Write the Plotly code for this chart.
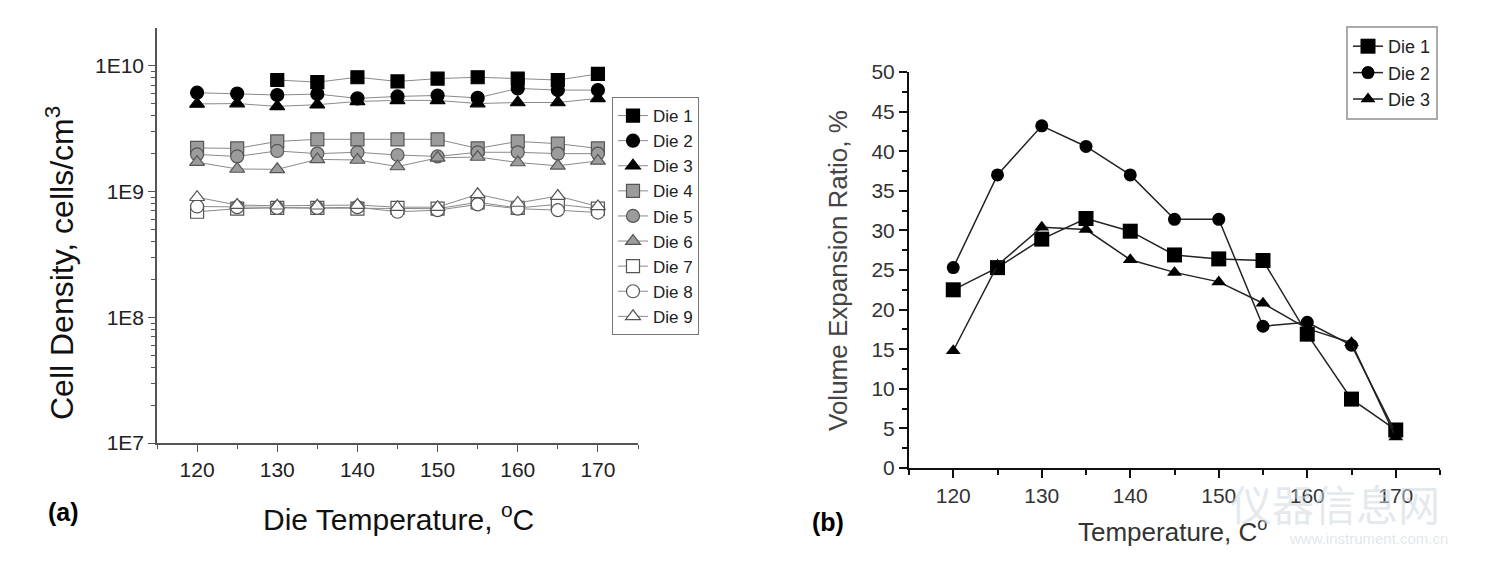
import plotly.graph_objects as go

# ---------------- data ----------------
temps = [120, 125, 130, 135, 140, 145, 150, 155, 160, 165, 170]

# panel (a): cell density, cells/cm3
die1_a = [None, None, 7.7e9, 7.4e9, 8.1e9, 7.5e9, 7.9e9, 8.1e9, 7.9e9, 7.7e9, 8.6e9]
die2_a = [6.1e9, 6.0e9, 5.85e9, 5.95e9, 5.5e9, 5.7e9, 5.8e9, 5.55e9, 6.6e9, 6.4e9, 6.4e9]
die3_a = [4.97e9, 5.0e9, 4.75e9, 4.9e9, 5.2e9, 5.3e9, 5.3e9, 5.0e9, 5.1e9, 5.1e9, 5.5e9]
die4_a = [2.22e9, 2.2e9, 2.5e9, 2.6e9, 2.6e9, 2.6e9, 2.6e9, 2.2e9, 2.5e9, 2.4e9, 2.2e9]
die5_a = [1.97e9, 1.9e9, 2.1e9, 2.0e9, 2.05e9, 1.95e9, 1.9e9, 2.05e9, 2.05e9, 2.0e9, 2.0e9]
die6_a = [1.71e9, 1.51e9, 1.5e9, 1.8e9, 1.78e9, 1.58e9, 1.85e9, 1.88e9, 1.7e9, 1.6e9, 1.75e9]
die7_a = [6.9e8, 7.3e8, 7.4e8, 7.4e8, 7.3e8, 7.4e8, 7.3e8, 8.2e8, 7.4e8, 7.9e8, 7.3e8]
die8_a = [7.6e8, 7.5e8, 7.4e8, 7.4e8, 7.5e8, 6.9e8, 7.1e8, 7.9e8, 7.3e8, 7.1e8, 6.8e8]
die9_a = [9.0e8, 7.8e8, 7.7e8, 7.7e8, 7.8e8, 7.5e8, 7.5e8, 9.5e8, 8.1e8, 9.2e8, 7.6e8]

# panel (b): volume expansion ratio, %
die1_b = [22.5, 25.3, 28.9, 31.5, 29.9, 26.9, 26.4, 26.2, 16.9, 8.7, 4.8]
die2_b = [25.3, 37.0, 43.2, 40.6, 37.0, 31.4, 31.4, 17.9, 18.4, 15.5, 4.4]
die3_b = [14.8, 25.6, 30.4, 30.1, 26.3, 24.7, 23.5, 20.8, 17.6, 15.8, 3.9]

names = ["Die 1", "Die 2", "Die 3", "Die 4", "Die 5", "Die 6", "Die 7", "Die 8", "Die 9"]
y_tick_vals = [1e7, 1e8, 1e9, 1e10]
y_tick_text = ["1E7", "1E8", "1E9", "1E10"]
x_tick_vals = [120, 130, 140, 150, 160, 170]

title_ax = "Die Temperature, <sup>o</sup>C"
title_ay = "Cell Density, cells/cm<sup>3</sup>"
title_bx = "Temperature, C<sup>o</sup>"
title_by = "Volume Expansion Ratio, %"

FONT = "Liberation Sans, Arial, sans-serif"
W, H = 1497, 569


def px(x):
    return x / W


def py(y):
    return 1 - y / H


fig = go.Figure()

series_a = [die1_a, die2_a, die3_a, die4_a, die5_a, die6_a, die7_a, die8_a, die9_a]
symbols_a = ["square", "circle", "triangle-up"] * 3
fills_a = ["#000000"] * 3 + ["#9c9c9c"] * 3 + ["#ffffff"] * 3
edges_a = ["#000000"] * 3 + ["#555555"] * 3 + ["#555555"] * 3

for i, (vals, nm) in enumerate(zip(series_a, names)):
    fig.add_trace(go.Scatter(
        x=temps, y=vals, name=nm, mode="lines+markers",
        xaxis="x", yaxis="y", legend="legend", legendgroup=nm,
        line=dict(color="#8a8a8a", width=1),
        marker=dict(symbol=symbols_a[i], size=13, color=fills_a[i],
                    line=dict(color=edges_a[i], width=1.2)),
    ))

series_b = [die1_b, die2_b, die3_b]
symbols_b = ["square", "circle", "triangle-up"]
sizes_b = [15, 13, 13]
for i, (vals, nm) in enumerate(zip(series_b, names[:3])):
    fig.add_trace(go.Scatter(
        x=temps, y=vals, name=nm, mode="lines+markers",
        xaxis="x2", yaxis="y2", legend="legend2", legendgroup="b" + nm,
        line=dict(color="#222222", width=1.5),
        marker=dict(symbol=symbols_b[i], size=sizes_b[i], color="#000000",
                    line=dict(color="#000000", width=0)),
    ))

minor_log = [m * 10 ** e for e in range(7, 11) for m in range(2, 10) if m * 10 ** e <= 2e10]

fig.update_layout(
    width=W, height=H,
    margin=dict(l=0, r=0, t=0, b=0, autoexpand=False),
    paper_bgcolor="white", plot_bgcolor="white",
    font=dict(family=FONT, color="#222222"),
    showlegend=True,
    xaxis=dict(
        domain=[px(157), px(638)], range=[115, 175], anchor="y", automargin=False,
        tickmode="array", tickvals=x_tick_vals,
        ticks="outside", ticklen=7, tickwidth=1.3, tickcolor="#555555",
        minor=dict(dtick=5, tick0=115, ticks="outside", ticklen=4, tickcolor="#555555", tickwidth=1.2),
        showline=True, linecolor="#555555", linewidth=1.6,
        showgrid=False, zeroline=False,
        tickfont=dict(size=21, family=FONT, color="#222222"),
    ),
    yaxis=dict(
        domain=[py(443), py(28)], type="log", range=[7, 10.3], anchor="x", automargin=False,
        tickmode="array", tickvals=y_tick_vals, ticktext=y_tick_text,
        ticks="outside", ticklen=7, tickwidth=1.3, tickcolor="#555555",
        minor=dict(tickmode="array", tickvals=minor_log, ticks="outside", ticklen=4,
                   tickcolor="#555555", tickwidth=1.2),
        showline=True, linecolor="#555555", linewidth=1.6,
        showgrid=False, zeroline=False,
        tickfont=dict(size=21, family=FONT, color="#222222"),
    ),
    xaxis2=dict(
        domain=[px(909), px(1440)], range=[115, 175], anchor="y2", automargin=False,
        tickmode="array", tickvals=x_tick_vals,
        ticks="outside", ticklen=8, tickwidth=2, tickcolor="#111111",
        minor=dict(dtick=5, tick0=115, ticks="outside", ticklen=5, tickcolor="#111111", tickwidth=1.6),
        showline=True, linecolor="#111111", linewidth=2,
        showgrid=False, zeroline=False,
        tickfont=dict(size=21, family=FONT, color="#333333"),
    ),
    yaxis2=dict(
        domain=[py(468), py(72)], range=[0, 50], anchor="x2", automargin=False,
        tickmode="linear", tick0=0, dtick=5,
        ticks="outside", ticklen=8, tickwidth=2, tickcolor="#111111",
        minor=dict(dtick=2.5, tick0=0, ticks="outside", ticklen=5, tickcolor="#111111", tickwidth=1.6),
        showline=True, linecolor="#111111", linewidth=2,
        showgrid=False, zeroline=False,
        tickfont=dict(size=21, family=FONT, color="#333333"),
    ),
    legend=dict(
        x=px(612), y=py(97), xanchor="left", yanchor="top",
        bordercolor="#777777", borderwidth=1, bgcolor="white",
        font=dict(size=17, family=FONT, color="#222222"),
        traceorder="grouped", tracegroupgap=0,
    ),
    legend2=dict(
        x=px(1346), y=py(26), xanchor="left", yanchor="top",
        bordercolor="#aaaaaa", borderwidth=2, bgcolor="white",
        font=dict(size=18, family=FONT, color="#222222"),
        traceorder="grouped", tracegroupgap=0,
    ),
)

annotations = [
    dict(text=title_ay, x=px(60), y=py(263), xref="paper", yref="paper",
         textangle=-90, showarrow=False, font=dict(size=32, family=FONT, color="#111111"),
         xanchor="center", yanchor="middle"),
    dict(text=title_ax, x=px(398), y=py(517), xref="paper", yref="paper", showarrow=False,
         font=dict(size=30, family=FONT, color="#111111"), xanchor="center", yanchor="middle"),
    dict(text=title_by, x=px(838), y=py(271), xref="paper", yref="paper",
         textangle=-90, showarrow=False, font=dict(size=26, family=FONT, color="#444444"),
         xanchor="center", yanchor="middle"),
    dict(text=title_bx, x=px(1172), y=py(530), xref="paper", yref="paper", showarrow=False,
         font=dict(size=26, family=FONT, color="#333333"), xanchor="center", yanchor="middle"),
    dict(text="<b>(a)</b>", x=px(63), y=py(512), xref="paper", yref="paper", showarrow=False,
         font=dict(size=25, family=FONT, color="#000000"), xanchor="center", yanchor="middle"),
    dict(text="<b>(b)</b>", x=px(828), y=py(522), xref="paper", yref="paper", showarrow=False,
         font=dict(size=25, family=FONT, color="#000000"), xanchor="center", yanchor="middle"),
    dict(text="仪器信息网", x=px(1335), y=py(503), xref="paper", yref="paper", showarrow=False,
         font=dict(size=42, family="Noto Sans CJK SC", color="rgba(205,214,224,0.55)"),
         xanchor="center", yanchor="middle"),
    dict(text="www.instrument.com.cn", x=px(1368), y=py(538), xref="paper", yref="paper", showarrow=False,
         font=dict(size=15, family=FONT, color="rgba(205,214,224,0.6)"),
         xanchor="center", yanchor="middle"),
]
fig.update_layout(annotations=annotations)

fig.write_html("out.html", config={"displayModeBar": False},
               post_script="document.body.style.margin='0px';")
